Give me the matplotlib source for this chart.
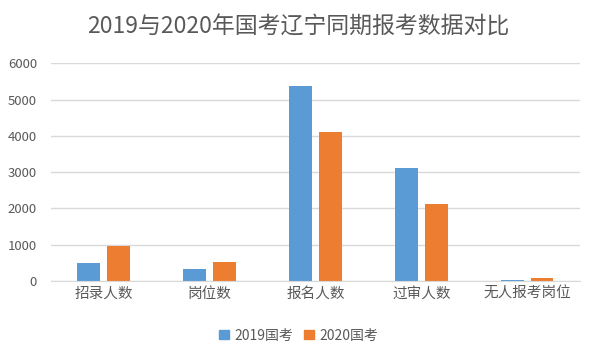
import numpy as np
import matplotlib
matplotlib.use("Agg")
import matplotlib.pyplot as plt

plt.rcParams['font.family'] = ['Noto Sans CJK SC', 'DejaVu Sans']

categories = ["招录人数", "岗位数", "报名人数", "过审人数", "无人报考岗位"]
values_2019 = [503, 340, 5384, 3124, 37]
values_2020 = [974, 533, 4116, 2132, 92]
series_names = ["2019国考", "2020国考"]
yticks = [0, 1000, 2000, 3000, 4000, 5000, 6000]

blue = "#5b9bd5"
orange = "#ed7d31"
text_gray = "#595959"
grid_gray = "#d9d9d9"

fig = plt.figure(figsize=(5.97, 3.55), dpi=100)
ax = fig.add_axes([0.0854, 0.2085, 0.886, 0.6132])

x = np.arange(len(categories))
width = 0.217
gap = 0.066
ax.bar(x - (width + gap) / 2, values_2019, width, color=blue, label=series_names[0], zorder=3)
ax.bar(x + (width + gap) / 2, values_2020, width, color=orange, label=series_names[1], zorder=3)

ax.set_xlim(-0.5, len(categories) - 0.5)
ax.set_ylim(0, 6000)
ax.set_yticks(yticks)
ax.set_yticklabels([str(v) for v in yticks], fontsize=9.5, color=text_gray)
ax.set_xticks(x)
ax.set_xticklabels(categories, fontsize=10.5, color=text_gray)
ax.tick_params(length=0)
ax.tick_params(axis='y', pad=10)
ax.tick_params(axis='x', pad=4)

ax.grid(axis='y', color=grid_gray, linewidth=1, zorder=0)
for side in ["top", "right", "left"]:
    ax.spines[side].set_visible(False)
ax.spines["bottom"].set_color(grid_gray)
ax.spines["bottom"].set_zorder(4)

fig.suptitle("2019与2020年国考辽宁同期报考数据对比", fontsize=16.5, color=text_gray, y=0.955)

handles = [plt.Rectangle((0, 0), 1, 1, color=blue), plt.Rectangle((0, 0), 1, 1, color=orange)]
fig.legend(handles, series_names, loc="center", bbox_to_anchor=(0.5, 0.055), ncol=2,
           frameon=False, fontsize=10, handlelength=0.7, handleheight=0.7,
           handletextpad=0.4, columnspacing=0.8, labelcolor=text_gray)

fig.savefig("out.png", dpi=100)
